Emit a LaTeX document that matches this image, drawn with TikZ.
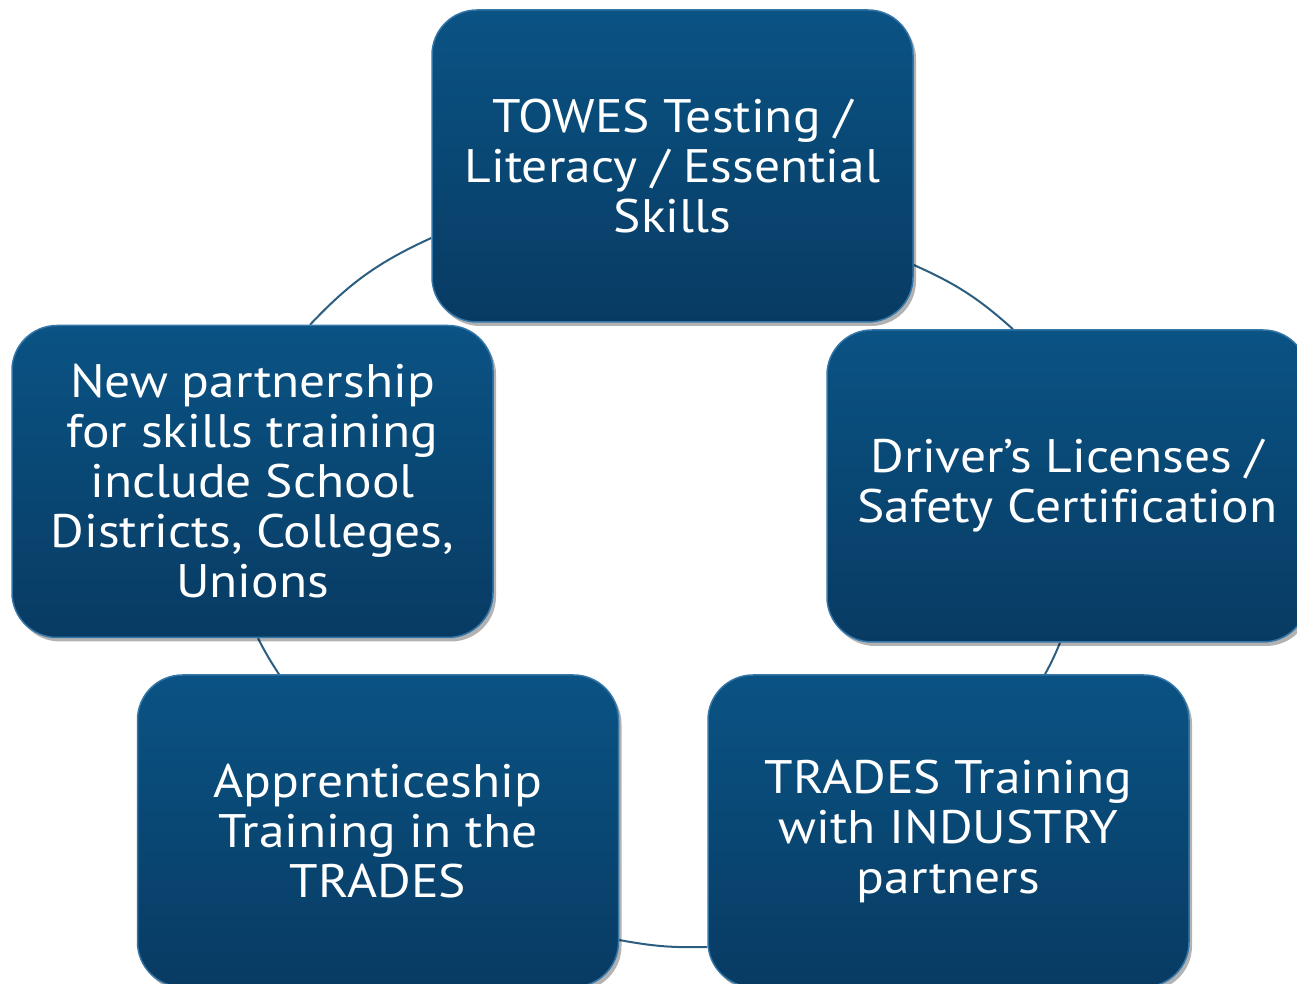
\documentclass[tikz,border=0pt]{standalone}
\usepackage{fontspec}
\setmainfont{PT Sans}[FakeStretch=1.095, Ligatures=NoCommon]
\usetikzlibrary{shadows}
\pgfdeclarelayer{bg}
\pgfsetlayers{bg,main}
\definecolor{boxtop}{HTML}{0A5384}
\definecolor{boxbot}{HTML}{083B63}
\definecolor{boxedge}{HTML}{3576A8}
\definecolor{arcline}{HTML}{2B5E80}
\tikzset{
  cyclebox/.style={rounded corners=45pt, minimum width=481pt, minimum height=312pt,
    top color=boxtop, bottom color=boxbot, draw=boxedge, line width=1.5pt,
    text=white, align=center, inner sep=0pt,
    font=\fontsize{47}{50}\selectfont,
    drop shadow={shadow xshift=3pt, shadow yshift=-4pt, opacity=0.3, fill=black}},
  cyclearc/.style={draw=arcline, line width=2pt},
}
\begin{document}
\begin{tikzpicture}
\useasboundingbox (0,0) rectangle (1297pt,984pt);
\node[cyclebox] (top) at (672.5pt,818pt) {TOWES Testing /\\Literacy / Essential\\Skills};
\node[cyclebox] (left) at (252.5pt,502.5pt) {New partnership\\for skills training\\include School\\Districts, Colleges,\\Unions};
\node[cyclebox] (right) at (1067.5pt,498pt) {Driver’s Licenses /\\Safety Certification};
\node[cyclebox] (bl) at (378pt,153pt) {Apprenticeship\\Training in the\\TRADES};
\node[cyclebox] (br) at (948.5pt,153pt) {TRADES Training\\with INDUSTRY\\partners};
\begin{pgfonlayer}{bg}
\draw[cyclearc] ([yshift=-72pt]top.west) to[bend right=11] ([xshift=57.5pt]left.north);
\draw[cyclearc] ([xshift=5.5pt]left.south) to[bend right=3] ([xshift=-99pt]bl.north);
\draw[cyclearc] ([yshift=-109pt]bl.east) to[bend right=6] ([yshift=-116pt]br.west);
\draw[cyclearc] ([xshift=96.5pt]br.north) to[bend right=3] ([xshift=-7.5pt]right.south);
\draw[cyclearc] ([xshift=-54.5pt]right.north) to[bend right=9] ([yshift=-99pt]top.east);
\end{pgfonlayer}
\end{tikzpicture}
\end{document}
